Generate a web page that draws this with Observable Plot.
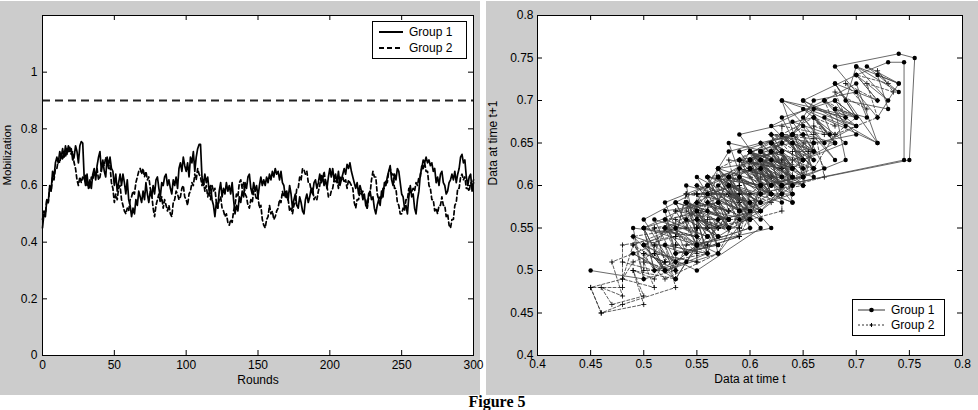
<!DOCTYPE html>
<html>
<head>
<meta charset="utf-8">
<script src="https://cdn.jsdelivr.net/npm/d3@7"></script>
<script src="https://cdn.jsdelivr.net/npm/@observablehq/plot@0.6"></script>
<style>
  html, body { margin: 0; padding: 0; background: #fff; }
  #page { position: relative; width: 978px; height: 410px; overflow: hidden; background: #fff; font-family: "Liberation Sans", Arial, sans-serif; }
  .panel { position: absolute; top: 1px; height: 394px; background: #cccccc; }
  .panel svg { position: absolute; left: 0; top: 0; }
  .legend { position: absolute; background: #fff; border: 1px solid #000; box-sizing: border-box; font-size: 12px; color: #000; }
  .legend .row { position: absolute; left: 0; height: 14px; display: flex; align-items: center; }
  .legend svg { position: static; }
  .legend span { margin-left: 6px; line-height: 14px; }
  #caption { position: absolute; left: 0; width: 994px; text-align: center; top: 394px; font: bold 16px "Liberation Serif", "Times New Roman", serif; line-height: 15px; color: #000; }
</style>
</head>
<body>
<div id="page">
  <div class="panel" id="left" style="left:0; width:480px;"></div>
  <div class="panel" id="right" style="left:486px; width:492px;"></div>
  <div id="caption">Figure 5</div>
</div>
<script>
// ---------------- data ----------------
const seriesNames = ["Group 1", "Group 2"];
const threshold = [0.9];
const leftXTicks = [0, 50, 100, 150, 200, 250, 300];
const leftYTicks = [0, 0.2, 0.4, 0.6, 0.8, 1];
const rightTicks = [0.4, 0.45, 0.5, 0.55, 0.6, 0.65, 0.7, 0.75, 0.8];

// Mobilization per round (rounds 0..300)
const group1 = [
0.45,0.50,0.49,0.55,0.54,0.60,0.58,0.65,0.63,0.68,
0.70,0.68,0.72,0.70,0.73,0.70,0.74,0.71,0.74,0.72,
0.73,0.69,0.70,0.74,0.72,0.68,0.74,0.755,0.75,0.63,
0.60,0.64,0.59,0.62,0.59,0.64,0.66,0.62,0.67,0.70,
0.72,0.65,0.69,0.65,0.63,0.70,0.67,0.70,0.66,0.65,
0.60,0.64,0.58,0.61,0.64,0.60,0.64,0.61,0.57,0.62,
0.55,0.53,0.49,0.52,0.50,0.55,0.53,0.58,0.56,0.54,
0.58,0.55,0.61,0.57,0.54,0.58,0.56,0.60,0.57,0.62,
0.63,0.59,0.56,0.61,0.60,0.63,0.64,0.60,0.62,0.59,
0.57,0.62,0.60,0.63,0.59,0.66,0.68,0.65,0.70,0.67,
0.65,0.68,0.63,0.70,0.68,0.72,0.65,0.70,0.73,0.745,
0.745,0.63,0.60,0.64,0.61,0.63,0.58,0.60,0.55,0.53,
0.49,0.54,0.52,0.58,0.61,0.56,0.59,0.57,0.61,0.58,
0.60,0.57,0.61,0.55,0.50,0.53,0.51,0.56,0.54,0.58,
0.56,0.61,0.59,0.63,0.64,0.59,0.57,0.61,0.58,0.60,
0.56,0.60,0.63,0.60,0.62,0.60,0.63,0.61,0.64,0.62,
0.65,0.63,0.66,0.64,0.65,0.62,0.65,0.61,0.60,0.56,
0.58,0.55,0.60,0.57,0.52,0.55,0.57,0.53,0.52,0.56,
0.54,0.51,0.50,0.55,0.57,0.54,0.56,0.59,0.57,0.61,
0.62,0.59,0.61,0.64,0.61,0.63,0.60,0.62,0.59,0.63,
0.66,0.63,0.66,0.62,0.64,0.61,0.65,0.60,0.62,0.64,
0.66,0.64,0.675,0.66,0.68,0.65,0.63,0.61,0.59,0.61,
0.57,0.60,0.58,0.55,0.57,0.53,0.52,0.57,0.58,0.55,
0.56,0.52,0.50,0.53,0.55,0.53,0.58,0.56,0.61,0.60,
0.63,0.65,0.67,0.62,0.60,0.64,0.62,0.66,0.65,0.61,
0.57,0.56,0.52,0.53,0.50,0.56,0.60,0.56,0.57,0.52,
0.50,0.55,0.58,0.64,0.66,0.69,0.68,0.70,0.68,0.69,
0.67,0.68,0.65,0.66,0.61,0.63,0.60,0.64,0.65,0.61,
0.60,0.57,0.58,0.61,0.62,0.64,0.62,0.65,0.61,0.64,
0.66,0.70,0.71,0.68,0.69,0.63,0.60,0.63,0.64,0.58,
0.61
];
const group2 = [
0.48,0.51,0.50,0.55,0.54,0.59,0.58,0.63,0.62,0.66,
0.66,0.69,0.68,0.71,0.69,0.72,0.70,0.73,0.72,0.735,
0.71,0.72,0.68,0.66,0.62,0.60,0.63,0.61,0.63,0.62,
0.64,0.60,0.61,0.59,0.63,0.62,0.65,0.63,0.66,0.62,
0.63,0.66,0.68,0.67,0.70,0.68,0.66,0.67,0.61,0.59,
0.54,0.57,0.55,0.59,0.60,0.55,0.53,0.51,0.50,0.52,
0.51,0.55,0.56,0.58,0.57,0.61,0.63,0.65,0.66,0.64,
0.66,0.63,0.65,0.62,0.63,0.59,0.57,0.52,0.49,0.53,
0.55,0.57,0.54,0.56,0.52,0.55,0.53,0.51,0.53,0.50,
0.49,0.54,0.55,0.58,0.57,0.55,0.56,0.59,0.60,0.56,
0.55,0.53,0.57,0.58,0.61,0.60,0.64,0.62,0.66,0.64,
0.63,0.60,0.62,0.58,0.60,0.56,0.58,0.55,0.60,0.58,
0.59,0.54,0.52,0.55,0.56,0.52,0.51,0.49,0.50,0.47,
0.46,0.48,0.47,0.51,0.53,0.57,0.56,0.61,0.62,0.59,
0.61,0.57,0.56,0.53,0.52,0.55,0.54,0.58,0.57,0.55,
0.56,0.52,0.53,0.48,0.46,0.45,0.48,0.49,0.53,0.50,
0.51,0.48,0.49,0.51,0.52,0.55,0.54,0.58,0.56,0.58,
0.55,0.55,0.51,0.52,0.50,0.53,0.54,0.59,0.59,0.63,
0.62,0.66,0.655,0.64,0.65,0.61,0.61,0.58,0.59,0.55,
0.56,0.55,0.58,0.60,0.64,0.62,0.65,0.61,0.60,0.56,
0.56,0.58,0.59,0.62,0.61,0.62,0.59,0.63,0.62,0.63,
0.61,0.62,0.59,0.62,0.61,0.60,0.59,0.54,0.52,0.55,
0.55,0.58,0.57,0.58,0.55,0.55,0.52,0.56,0.57,0.62,
0.65,0.63,0.63,0.57,0.55,0.56,0.55,0.59,0.59,0.62,
0.61,0.65,0.66,0.64,0.64,0.59,0.59,0.54,0.53,0.50,
0.50,0.52,0.51,0.55,0.55,0.59,0.59,0.58,0.59,0.58,
0.61,0.60,0.63,0.63,0.67,0.66,0.68,0.65,0.65,0.60,
0.59,0.55,0.55,0.51,0.52,0.50,0.53,0.53,0.56,0.53,
0.53,0.49,0.50,0.46,0.45,0.48,0.48,0.53,0.54,0.59,
0.59,0.63,0.64,0.62,0.63,0.59,0.59,0.58,0.61,0.60,
0.62
];

// ---------------- derived tables ----------------
const series1 = group1.map((v, i) => ({round: i, value: v}));
const series2 = group2.map((v, i) => ({round: i, value: v}));
const lag = arr => arr.slice(0, -1).map((v, i) => ({t: v, t1: arr[i + 1]}));
const phase1 = lag(group1);
const phase2 = lag(group2);

const font = '"Liberation Sans", Arial, sans-serif';

// inward MATLAB-style ticks on all four sides
function inwardTicks(xt, yt, fw, fh, len) {
  return [
    Plot.ruleX(xt, {x: d => d, insetTop: fh - len, stroke: "black"}),
    Plot.ruleX(xt, {x: d => d, insetBottom: fh - len, stroke: "black"}),
    Plot.ruleY(yt, {y: d => d, insetRight: fw - len, stroke: "black"}),
    Plot.ruleY(yt, {y: d => d, insetLeft: fw - len, stroke: "black"})
  ];
}

// ---------------- left plot ----------------
{
  const W = 480, H = 394, mL = 42, mR = 7, mT = 14, mB = 40;
  const fw = W - mL - mR, fh = H - mT - mB;
  const p = Plot.plot({
    width: W, height: H,
    marginLeft: mL, marginRight: mR, marginTop: mT, marginBottom: mB,
    x: {domain: [0, 300]},
    y: {domain: [0, 1.2]},
    style: {background: "transparent", fontFamily: font, fontSize: "12px", color: "black", overflow: "visible"},
    marks: [
      Plot.frame({fill: "white", stroke: null}),
      Plot.ruleY(threshold, {y: d => d, stroke: "#222", strokeWidth: 1.8, strokeDasharray: "8,5"}),
      Plot.line(series2, {x: "round", y: "value", stroke: "black", strokeWidth: 1.7, strokeDasharray: "4,3"}),
      Plot.line(series1, {x: "round", y: "value", stroke: "black", strokeWidth: 1.7}),
      Plot.frame({stroke: "black"}),
      ...inwardTicks(leftXTicks, leftYTicks, fw, fh, 5),
      Plot.axisX(leftXTicks, {anchor: "bottom", tickSize: 0, tickPadding: 5, tickFormat: d => String(d), label: null, fontSize: 12}),
      Plot.axisY(leftYTicks, {anchor: "left", tickSize: 0, tickPadding: 5, tickFormat: d => String(d), label: null, fontSize: 12}),
      Plot.text(["Rounds"], {frameAnchor: "bottom", dy: 28, fontSize: 12, fill: "black"}),
      Plot.text(["Mobilization"], {frameAnchor: "left", dx: -35, rotate: -90, fontSize: 11.5, fill: "black"})
    ]
  });
  document.getElementById("left").appendChild(p);
}

// ---------------- right plot ----------------
{
  const W = 492, H = 394, mL = 51, mR = 16, mT = 14, mB = 40;
  const fw = W - mL - mR, fh = H - mT - mB;
  const fmt = d => String(+d.toFixed(2));
  const p = Plot.plot({
    width: W, height: H,
    marginLeft: mL, marginRight: mR, marginTop: mT, marginBottom: mB,
    x: {domain: [0.4, 0.8]},
    y: {domain: [0.4, 0.8]},
    style: {background: "transparent", fontFamily: font, fontSize: "12px", color: "black", overflow: "visible"},
    marks: [
      Plot.frame({fill: "white", stroke: null}),
      Plot.line(phase2, {x: "t", y: "t1", stroke: "#333", strokeWidth: 0.8, strokeDasharray: "3,2"}),
      Plot.dot(phase2, {x: "t", y: "t1", symbol: "plus", r: 1.8, stroke: "black", strokeWidth: 0.8}),
      Plot.line(phase1, {x: "t", y: "t1", stroke: "#444", strokeWidth: 0.8}),
      Plot.dot(phase1, {x: "t", y: "t1", r: 2.2, fill: "black", stroke: null}),
      Plot.frame({stroke: "black"}),
      ...inwardTicks(rightTicks, rightTicks, fw, fh, 5),
      Plot.axisX(rightTicks, {anchor: "bottom", tickSize: 0, tickPadding: 4, tickFormat: fmt, label: null, fontSize: 12}),
      Plot.axisY(rightTicks, {anchor: "left", tickSize: 0, tickPadding: 4, tickFormat: fmt, label: null, fontSize: 12}),
      Plot.text(["Data at time t"], {frameAnchor: "bottom", dy: 27, fontSize: 12, fill: "black"}),
      Plot.text(["Data at time t+1"], {frameAnchor: "left", dx: -44, rotate: -90, fontSize: 12, fill: "black"})
    ]
  });
  document.getElementById("right").appendChild(p);
}

// ---------------- legends ----------------
function legend(parentId, left, top, w, h, rows) {
  const box = document.createElement("div");
  box.className = "legend";
  Object.assign(box.style, {left: left + "px", top: top + "px", width: w + "px", height: h + "px"});
  rows.forEach(r => {
    const row = document.createElement("div");
    row.className = "row";
    row.style.top = r.y + "px";
    row.style.left = r.x + "px";
    row.innerHTML = `<svg width="${r.sw}" height="14">${r.svg}</svg><span>${r.name}</span>`;
    box.appendChild(row);
  });
  document.getElementById(parentId).appendChild(box);
}
legend("left", 372, 20, 95, 38, [
  {name: seriesNames[0], x: 6, y: 3, sw: 24, svg: '<line x1="0" y1="7" x2="24" y2="7" stroke="black" stroke-width="2"/>'},
  {name: seriesNames[1], x: 6, y: 19, sw: 24, svg: '<line x1="0" y1="7" x2="24" y2="7" stroke="black" stroke-width="2" stroke-dasharray="5,3"/>'}
]);
legend("right", 366, 298, 93, 37, [
  {name: seriesNames[0], x: 5, y: 3, sw: 27, svg: '<line x1="0" y1="7" x2="27" y2="7" stroke="#333" stroke-width="1"/><circle cx="13.5" cy="7" r="2.3" fill="black"/>'},
  {name: seriesNames[1], x: 5, y: 18, sw: 27, svg: '<line x1="0" y1="7" x2="27" y2="7" stroke="#333" stroke-width="1" stroke-dasharray="2,2"/><path d="M11.5,7h4M13.5,5v4" stroke="black" stroke-width="1"/>'}
]);
</script>
</body>
</html>
